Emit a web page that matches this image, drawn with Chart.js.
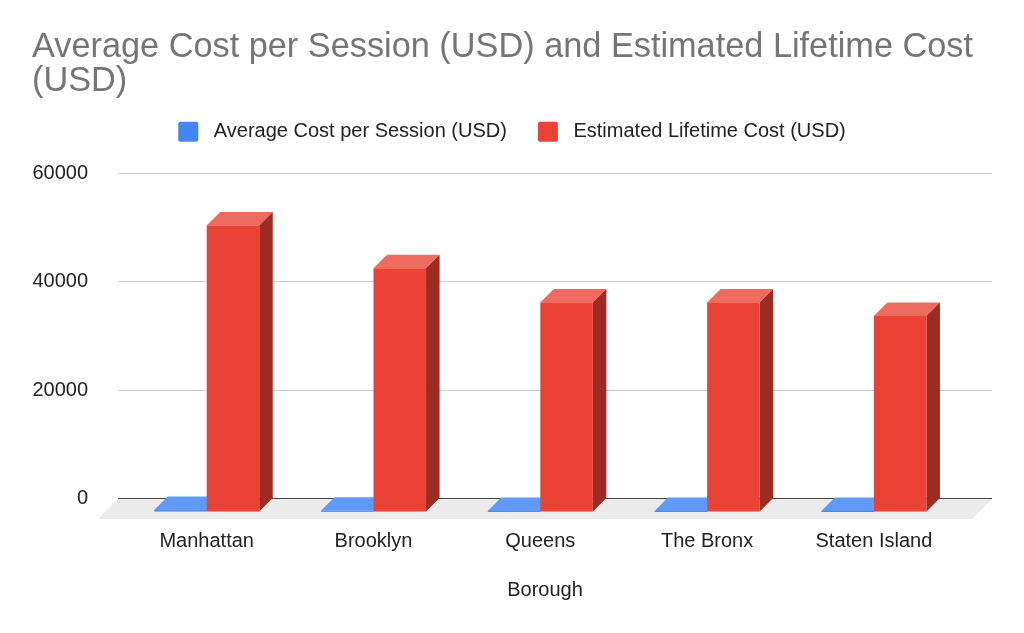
<!DOCTYPE html>
<html>
<head>
<meta charset="utf-8">
<script src="https://cdn.jsdelivr.net/npm/chart.js@4.4.1/dist/chart.umd.min.js"></script>
<style>
  html, body { margin: 0; padding: 0; background: #fff; }
  #wrap { width: 1024px; height: 633px; }
</style>
</head>
<body>
<div id="wrap"><canvas id="myChart"></canvas></div>
<script>
const chartTitle = ["Average Cost per Session (USD) and Estimated Lifetime Cost", "(USD)"];
const xTitle = "Borough";
const boroughs = ["Manhattan", "Brooklyn", "Queens", "The Bronx", "Staten Island"];
const seriesNames = ["Average Cost per Session (USD)", "Estimated Lifetime Cost (USD)"];
const avgCostPerSession = [350, 220, 200, 200, 190];
const lifetimeCost = [52900, 45000, 38700, 38700, 36200];
const yTicks = [0, 20000, 40000, 60000];

const FONT = "'Liberation Sans', Arial, sans-serif";
const DEPTH = 13.5; // how far the bar front sits in front of the back wall
const FLOOR_DX = 20;
const FLOOR_DY = 20.5;

// front / top / side colours of each series
const faces = [
  { front: "#4285f4", top: "#6199f6", side: "#2f5fae" },
  { front: "#ea4335", top: "#ee6b60", side: "#9c2b23" },
];

// draws the grey floor and the 3d bars from the bar elements
const bars3d = {
  id: "bars3d",
  beforeDatasetsDraw(chart) {
    const ctx = chart.ctx;
    const area = chart.chartArea;
    const zero = chart.scales.y.getPixelForValue(0);

    ctx.save();
    ctx.fillStyle = "#ebebeb";
    ctx.beginPath();
    ctx.moveTo(area.left, zero + 0.5);
    ctx.lineTo(area.right, zero + 0.5);
    ctx.lineTo(area.right - FLOOR_DX, zero + FLOOR_DY);
    ctx.lineTo(area.left - FLOOR_DX, zero + FLOOR_DY);
    ctx.closePath();
    ctx.fill();

    const metas = chart.getSortedVisibleDatasetMetas();
    for (let i = 0; i < boroughs.length; i++) {
      metas.forEach((meta) => {
        const bar = meta.data[i];
        if (!bar) return;
        const c = faces[meta.index];
        const { x, y, base, width } = bar.getProps(["x", "y", "base", "width"], true);
        const l = x - width / 2;
        const r = x + width / 2;
        const d = DEPTH;

        // top
        ctx.fillStyle = c.top;
        ctx.beginPath();
        ctx.moveTo(l, y + d);
        ctx.lineTo(r, y + d);
        ctx.lineTo(r + d, y);
        ctx.lineTo(l + d, y);
        ctx.closePath();
        ctx.fill();

        // right side
        ctx.fillStyle = c.side;
        ctx.beginPath();
        ctx.moveTo(r, y + d);
        ctx.lineTo(r + d, y);
        ctx.lineTo(r + d, base);
        ctx.lineTo(r, base + d);
        ctx.closePath();
        ctx.fill();

        // front
        ctx.fillStyle = c.front;
        ctx.fillRect(l, y + d, width, Math.max(base - y, 1));
      });
    }
    ctx.restore();
    return false;
  },
  // axis title sits under the middle of the floor, not the back wall
  afterDraw(chart) {
    const ctx = chart.ctx;
    const area = chart.chartArea;
    ctx.save();
    ctx.fillStyle = "#222";
    ctx.font = "20px " + FONT;
    ctx.textAlign = "center";
    ctx.textBaseline = "middle";
    ctx.fillText(xTitle, (area.left - FLOOR_DX + area.right) / 2, chart.scales.x.bottom - 43);
    ctx.restore();
  },
};

// extra room between the legend and the plot
const legendGap = {
  id: "legendGap",
  beforeUpdate(chart) {
    const lg = chart.legend;
    if (lg && !lg._gapPatched) {
      const fit = lg.fit;
      lg.fit = function () {
        fit.call(this);
        this.height += 21.7;
      };
      lg._gapPatched = true;
    }
  },
};

const ctx = document.getElementById("myChart");
// eslint-disable-next-line
const myChart = new Chart(ctx, {
  type: "bar",
  data: {
    datasets: [
      {
        label: seriesNames[0],
        data: avgCostPerSession.map((v, i) => ({ x: i, y: v })),
        backgroundColor: faces[0].front,
        borderWidth: 0,
      },
      {
        label: seriesNames[1],
        data: lifetimeCost.map((v, i) => ({ x: i, y: v })),
        backgroundColor: faces[1].front,
        borderWidth: 0,
      },
    ],
  },
  options: {
    responsive: true,
    maintainAspectRatio: false,
    animation: false,
    categoryPercentage: 0.63,
    barPercentage: 1,
    layout: { padding: { left: 32, right: 32, top: 0, bottom: 0 } },
    plugins: {
      tooltip: { enabled: false },
      title: {
        display: true,
        text: chartTitle,
        align: "start",
        color: "#757575",
        font: { family: FONT, size: 34.3, weight: "normal", lineHeight: 1.0 },
        padding: { top: 30, bottom: -7.8 },
      },
      legend: {
        display: true,
        position: "top",
        labels: {
          color: "#222",
          font: { family: FONT, size: 20 },
          boxWidth: 20,
          boxHeight: 20,
          padding: 31,
          useBorderRadius: true,
          borderRadius: 2,
          generateLabels(chart) {
            return chart.data.datasets.map((ds, i) => ({
              text: " " + ds.label,
              fillStyle: ds.backgroundColor,
              strokeStyle: ds.backgroundColor,
              lineWidth: 0,
              fontColor: "#222",
              hidden: false,
              datasetIndex: i,
              borderRadius: 2,
            }));
          },
        },
      },
    },
    scales: {
      x: {
        type: "linear",
        offset: false,
        min: -0.5318,
        max: 4.708,
        grid: { display: false, drawTicks: false },
        border: { display: false },
        afterBuildTicks(scale) {
          scale.ticks = boroughs.map((_, i) => ({ value: i }));
        },
        afterFit(scale) {
          scale.height = 134.5;
        },
        ticks: {
          autoSkip: false,
          maxRotation: 0,
          padding: 31,
          color: "#222",
          font: { family: FONT, size: 20 },
          callback: (v) => boroughs[v],
        },
      },
      y: {
        min: 0,
        max: 60000,
        afterBuildTicks(scale) {
          scale.ticks = yTicks.map((v) => ({ value: v }));
        },
        afterFit(scale) {
          scale.width = 86;
        },
        grid: {
          drawTicks: false,
          color: (c) => (c.tick && c.tick.value === 0 ? "#444" : "#cccccc"),
          lineWidth: 1,
        },
        border: { display: false },
        ticks: {
          padding: 30,
          color: "#222",
          font: { family: FONT, size: 20 },
          callback: (v) => String(v),
        },
      },
    },
  },
  plugins: [bars3d, legendGap],
});
</script>
</body>
</html>
